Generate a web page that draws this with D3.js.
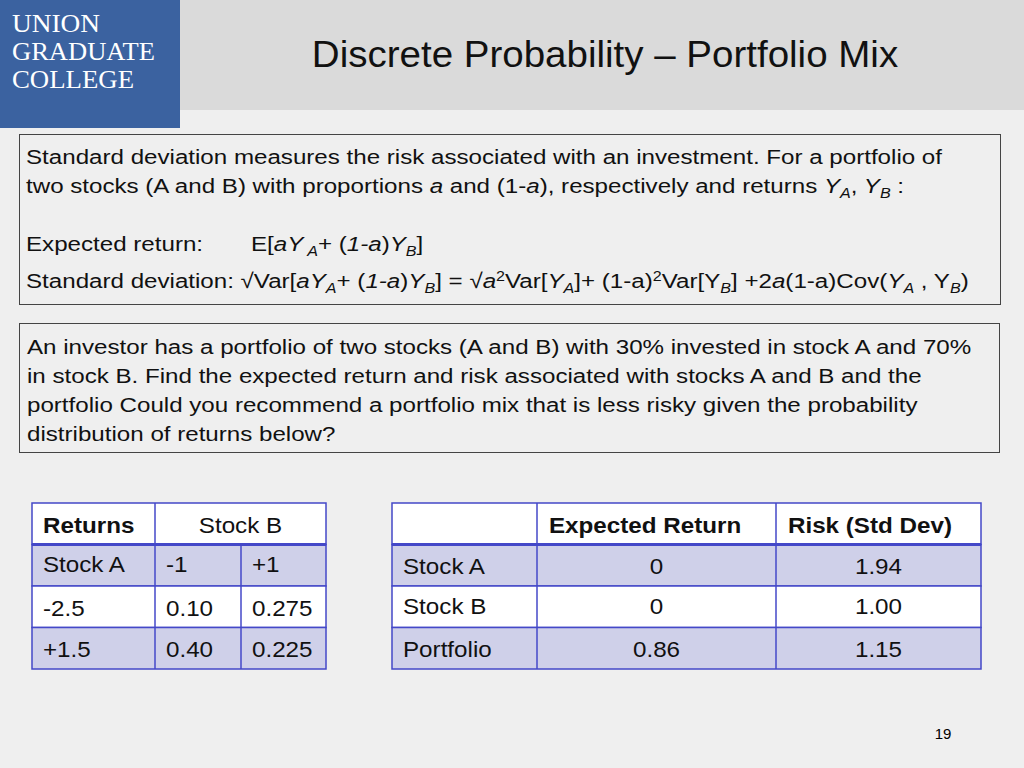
<!DOCTYPE html>
<html><head><meta charset="utf-8">
<script src="https://cdn.jsdelivr.net/npm/d3@7"></script>
<style>body{margin:0;background:#efefef}svg{display:block;font-family:"Liberation Sans",Arial,sans-serif}</style>
</head><body>
<script>
var jointHeader = ['Returns', 'Stock B']
var jointRows = [
  ['Stock  A', '-1', '+1'],
  ['-2.5', '0.10', '0.275'],
  ['+1.5', '0.40', '0.225']
]
var summaryHeader = ['', 'Expected Return', 'Risk (Std Dev)']
var summaryRows = [
  ['Stock  A', '0', '1.94'],
  ['Stock B', '0', '1.00'],
  ['Portfolio', '0.86', '1.15']
]

var svg = d3.select('body').append('svg').attr('width', 1024).attr('height', 768)
svg.append('rect').attr('width', 1024).attr('height', 768).attr('fill', '#efefef')
svg.append('rect').attr('width', 1024).attr('height', 110).attr('fill', '#dadada')
svg.append('rect').attr('width', 180).attr('height', 128).attr('fill', '#3b62a0')

// stretch text horizontally around its own x (slide font is wider)
function stretch(t, k) {
  var x = +t.attr('x')
  t.attr('transform', 'translate(' + x + ',0) scale(' + k + ',1) translate(' + (-x) + ',0)')
  return t
}

var logo = ['UNION', 'GRADUATE', 'COLLEGE']
svg.selectAll('.logo').data(logo).enter().append('text')
  .attr('x', 12).attr('y', (d, i) => 32 + i * 28)
  .attr('fill', '#fff').attr('font-family', '"Liberation Serif",serif').attr('font-size', 26)
  .attr('textLength', (d, i) => [88, 143, 122][i]).attr('lengthAdjust', 'spacingAndGlyphs')
  .text(d => d)

stretch(svg.append('text').attr('x', 605).attr('y', 67).attr('text-anchor', 'middle')
  .attr('font-size', 36).attr('fill', '#111').text('Discrete Probability \u2013 Portfolio Mix'), 1.07)

// boxes
svg.append('rect').attr('x', 19.5).attr('y', 134.5).attr('width', 981).attr('height', 170)
  .attr('fill', '#efefef').attr('stroke', '#444')
svg.append('rect').attr('x', 19.5).attr('y', 323.5).attr('width', 980).attr('height', 129)
  .attr('fill', '#efefef').attr('stroke', '#444')

var K = 1.15
// rich text helper: i=italic, s=subscript, p=superscript, r=return to baseline
function rich(x, y, parts) {
  var t = svg.append('text').attr('x', x).attr('y', y).attr('font-size', 21).attr('fill', '#111')
  parts.forEach(function(p) {
    var s = t.append('tspan').text(p[0])
    var st = p[1] || ''
    if (st.indexOf('i') >= 0) s.attr('font-style', 'italic')
    if (st.indexOf('s') >= 0) s.attr('font-size', 14).attr('dy', 5)
    if (st.indexOf('p') >= 0) s.attr('font-size', 14).attr('dy', -7)
    if (st.indexOf('r') >= 0) s.attr('dy', st.indexOf('R') >= 0 ? 7 : -5)
  })
  return stretch(t, K)
}
rich(26, 164, [['Standard deviation measures the risk associated with an investment.  For a portfolio of']])
rich(26, 193, [['two stocks (A and B) with proportions '], ['a', 'i'], [' and (1-'], ['a', 'i'], ['), respectively and returns '],
  ['Y', 'i'], ['A', 'is'], [',', 'r'], [' Y', 'i'], ['B', 'is'], [' :', 'r']])
rich(26, 251, [['Expected return:']])
rich(251, 251, [['E['], ['aY', 'i'], [' A', 'is'], ['+ (', 'r'], ['1-a', 'i'], [')'], ['Y', 'i'], ['B', 'is'], [']', 'r']])
rich(26, 288, [['Standard deviation:  \u221AVar['], ['aY', 'i'], ['A', 'is'], ['+ (', 'r'], ['1-a', 'i'], [')'], ['Y', 'i'], ['B', 'is'],
  ['] = \u221A', 'r'], ['a', 'i'], ['2', 'p'], ['Var[', 'rR'], ['Y', 'i'], ['A', 'is'], [']+ (1-a)', 'r'], ['2', 'p'], ['Var[Y', 'rR'],
  ['B', 'is'], ['] +2', 'r'], ['a', 'i'], ['(1-a)Cov('], ['Y', 'i'], ['A', 'is'], [' , Y', 'r'], ['B', 'is'], [')', 'r']])

var para = ['An investor has a portfolio of two stocks (A and B) with 30% invested in stock A and 70%',
  'in stock B.  Find the expected return and risk associated with stocks A and  B and the',
  'portfolio Could you recommend a portfolio mix that is less risky given the probability',
  'distribution of returns below?']
para.forEach(function(d, i) { rich(27, 354 + i * 29, [[d]]) })

var rowY = d3.scaleBand().domain(d3.range(4)).range([503, 669])
var fills = ['#ffffff', '#cfd0e9', '#ffffff', '#cfd0e9']
var blue = '#4448c8'

function cellText(g, x, y, s, anchor, bold) {
  var t = g.append('text').attr('x', x).attr('y', y).attr('font-size', 22).attr('fill', '#111')
    .attr('text-anchor', anchor || 'start').text(s)
  if (bold) t.attr('font-weight', 'bold')
  return stretch(t, 1.1)
}

// left table
var lx = [32, 155, 241, 326]
var left = svg.append('g')
d3.range(4).forEach(function(r) {
  left.append('rect').attr('x', lx[0]).attr('y', rowY(r)).attr('width', lx[3] - lx[0]).attr('height', rowY.bandwidth())
    .attr('fill', fills[r]).attr('stroke', blue).attr('stroke-width', 1.5)
})
left.append('line').attr('x1', lx[1]).attr('x2', lx[1]).attr('y1', 503).attr('y2', 669).attr('stroke', blue).attr('stroke-width', 1.5)
left.append('line').attr('x1', lx[2]).attr('x2', lx[2]).attr('y1', rowY(1)).attr('y2', 669).attr('stroke', blue).attr('stroke-width', 1.5)
left.append('line').attr('x1', lx[0]).attr('x2', lx[3]).attr('y1', rowY(1)).attr('y2', rowY(1)).attr('stroke', blue).attr('stroke-width', 3)
cellText(left, 43, rowY(0) + 30, jointHeader[0], 'start', true)
cellText(left, (lx[1] + lx[3]) / 2, rowY(0) + 30, jointHeader[1], 'middle')
jointRows.forEach(function(row, r) {
  row.forEach(function(c, j) {
    cellText(left, lx[j] + 11, rowY(r + 1) + (r === 0 ? 28 : 30), c)
  })
})

// right table
var rx = [392, 537, 776, 981]
var right = svg.append('g')
d3.range(4).forEach(function(r) {
  right.append('rect').attr('x', rx[0]).attr('y', rowY(r)).attr('width', rx[3] - rx[0]).attr('height', rowY.bandwidth())
    .attr('fill', fills[r]).attr('stroke', blue).attr('stroke-width', 1.5)
})
;[1, 2].forEach(function(j) {
  right.append('line').attr('x1', rx[j]).attr('x2', rx[j]).attr('y1', 503).attr('y2', 669).attr('stroke', blue).attr('stroke-width', 1.5)
})
right.append('line').attr('x1', rx[0]).attr('x2', rx[3]).attr('y1', rowY(1)).attr('y2', rowY(1)).attr('stroke', blue).attr('stroke-width', 3)
summaryHeader.forEach(function(h, j) {
  if (h) cellText(right, j === 1 ? 549 : 788, rowY(0) + 30, h, 'start', true)
})
summaryRows.forEach(function(row, r) {
  row.forEach(function(c, j) {
    cellText(right, j === 0 ? rx[0] + 11 : (rx[j] + rx[j + 1]) / 2, rowY(r + 1) + (r === 1 ? 28 : 30), c,
      j === 0 ? 'start' : 'middle')
  })
})

svg.append('text').attr('x', 943).attr('y', 739).attr('text-anchor', 'middle').attr('font-size', 15).text('19')
</script>
</body></html>
